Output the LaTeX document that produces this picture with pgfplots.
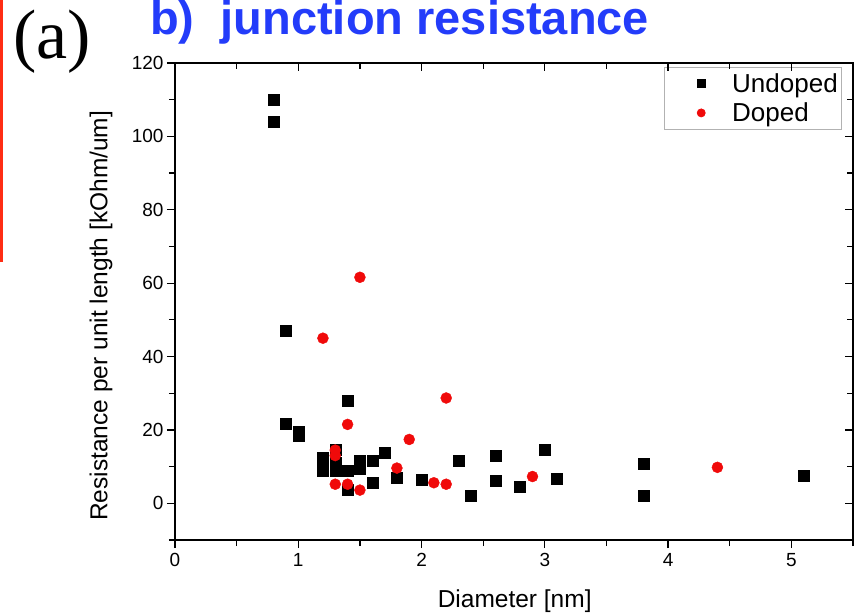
\documentclass[border=0pt]{standalone}
\usepackage{fontspec}
\setmainfont{Liberation Sans}
\newfontfamily\timesfont{Liberation Serif}
\usepackage{pgfplots}
\pgfplotsset{compat=1.18}
\definecolor{titleblue}{RGB}{35,60,250}
\definecolor{barred}{RGB}{255,45,20}
\definecolor{dotred}{RGB}{240,10,10}
\begin{document}
\begin{tikzpicture}
\path[use as bounding box] (0pt,0pt) rectangle (854pt,613pt);
\fill[barred] (0pt,351pt) rectangle (3pt,613pt);
\node[anchor=base west, inner sep=0pt, font=\timesfont\fontsize{70}{70}\selectfont] at (13pt,554pt) {(a)};
\node[anchor=base west, inner sep=0pt, font=\bfseries\fontsize{47}{47}\selectfont, text=titleblue] at (150pt,578.5pt) {b)\ \ junction resistance};
\begin{axis}[
  at={(175pt,73pt)}, anchor=south west, scale only axis, width=678pt, height=477pt,
  xmin=0, xmax=5.5, ymin=-10, ymax=120,
  xtick={0,1,2,3,4,5}, ytick={0,20,40,60,80,100,120},
  minor xtick={0.5,1.5,2.5,3.5,4.5,5.5}, minor ytick={-10,10,30,50,70,90,110},
  xtick pos=left, ytick pos=left, tick align=outside,
  major tick length=8pt, minor tick length=6pt,
  axis line style={line width=1.4pt},
  every tick/.style={line width=1.2pt, black},
  /pgf/number format/assume math mode=true,
  ticklabel style={font=\fontsize{19}{19}\selectfont},
  xticklabel style={yshift=-2pt},
  xlabel={Diameter [nm]},
  ylabel={Resistance per unit length [kOhm/um]},
  label style={font=\fontsize{24.5}{24.5}\selectfont},
  xlabel style={at={(axis description cs:0.501,-0.128)}, anchor=center},
  ylabel style={at={(axis description cs:-0.109,0.47)}, anchor=center},
  legend style={at={(0.984,0.9916)}, anchor=north east, draw=gray!60, line width=0.8pt,
    font=\fontsize{26}{28}\selectfont, row sep=5pt, inner xsep=2pt, inner ysep=4pt},
  legend cell align=left,
  legend image code/.code={\path[draw=none,fill=none] (0pt,-6pt) rectangle (64pt,6pt); \draw[#1, mark size=4pt] plot coordinates {(35pt,0pt)};},
]
\addplot[only marks, mark=square*, mark size=5.5pt, black] coordinates {
(0.80,110) (0.80,104) (0.90,47) (0.90,21.7) (1.00,19.5) (1.00,18.5)
(1.20,12.5) (1.20,10.5) (1.20,9) (1.30,14.5) (1.30,11) (1.30,9)
(1.40,28) (1.40,9) (1.40,3.8) (1.50,11.5) (1.50,9.5) (1.60,11.5)
(1.60,5.5) (1.70,13.7) (1.80,7.0) (2.00,6.5) (2.30,11.7) (2.40,2.0)
(2.60,13.1) (2.60,6.1) (2.80,4.5) (3.00,14.7) (3.10,6.8) (3.80,10.8)
(3.80,2.2) (5.10,7.5)
};
\addlegendentry{Undoped}
\addplot[only marks, mark=*, mark size=5.5pt, dotred, draw=dotred, fill=dotred] coordinates {
(1.50,61.6) (1.20,45) (1.40,21.5) (1.30,14.5) (1.30,13) (1.30,5.2)
(1.40,5.2) (1.50,3.6) (1.90,17.4) (1.80,9.6) (2.20,28.7) (2.10,5.6)
(2.20,5.2) (2.90,7.3) (4.40,9.8)
};
\addlegendentry{Doped}
\end{axis}
\begin{axis}[
  at={(175pt,73pt)}, anchor=south west, scale only axis, width=678pt, height=477pt,
  xmin=0, xmax=5.5, ymin=-10, ymax=120,
  xtick={0,1,2,3,4,5}, ytick={0,20,40,60,80,100,120},
  minor xtick={0.5,1.5,2.5,3.5,4.5,5.5}, minor ytick={-10,10,30,50,70,90,110},
  xtick pos=right, ytick pos=right, tick align=inside,
  major tick length=8pt, minor tick length=6pt,
  axis line style={line width=1.4pt},
  every tick/.style={line width=1.2pt, black},
  xticklabels={}, yticklabels={},
]
\end{axis}
\end{tikzpicture}
\end{document}
